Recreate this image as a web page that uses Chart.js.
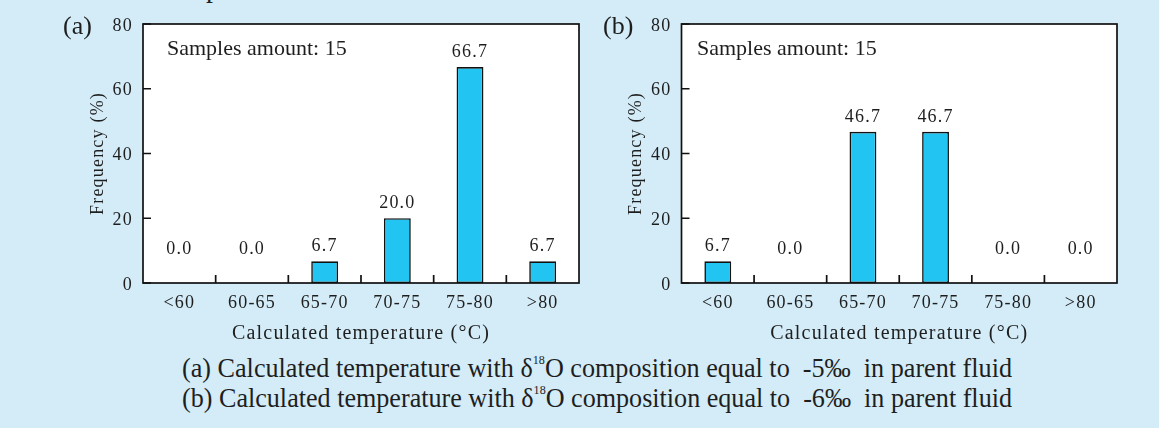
<!DOCTYPE html>
<html>
<head>
<meta charset="utf-8">
<script src="https://cdn.jsdelivr.net/npm/chart.js@4.4.1/dist/chart.umd.min.js"></script>
<style>
body{margin:0;width:1159px;height:428px;background:#d3ecf8;overflow:hidden;position:relative;font-family:"Liberation Serif","Times New Roman",serif;color:#1e1e1e}
canvas{position:absolute;top:0}
#chartA{left:0}
#chartB{left:585px}
.panel{position:absolute;top:13px;font-size:26px;line-height:26px}
.note{position:absolute;top:36.6px;font-size:22px;line-height:22px}
.cap{position:absolute;left:182px;font-size:28px;line-height:27px;white-space:nowrap;transform-origin:0 0}
.cap sup{font-size:13px;line-height:0;vertical-align:13px}
.frag{position:absolute;left:206px;top:-26px;font-size:28px;line-height:28px}
</style>
</head>
<body>
<div class="frag">p</div>
<canvas id="chartA" width="600" height="350"></canvas>
<canvas id="chartB" width="574" height="350"></canvas>
<div class="panel" style="left:63px">(a)</div>
<div class="panel" style="left:603px">(b)</div>
<div class="note" id="noteA" style="left:167px"></div>
<div class="note" id="noteB" style="left:697px"></div>
<div class="cap" style="top:353.5px">(a) Calculated temperature with &delta;<sup>18</sup>O composition equal to&nbsp; -5&permil;&nbsp; in parent fluid</div>
<div class="cap" style="top:383.5px">(b) Calculated temperature with &delta;<sup>18</sup>O composition equal to&nbsp; -6&permil;&nbsp; in parent fluid</div>
<script>
// data
const categories = ["<60", "60-65", "65-70", "70-75", "75-80", ">80"];
const freqA = [0.0, 0.0, 6.7, 20.0, 66.7, 6.7];
const freqB = [6.7, 0.0, 46.7, 46.7, 0.0, 0.0];
const yTicks = [0, 20, 40, 60, 80];
const samplesA = 15;
const samplesB = 15;

const FONT = "'Liberation Serif', 'Times New Roman', serif";
const INK = "#1e1e1e";
Chart.defaults.font.family = FONT;
Chart.defaults.color = INK;

document.getElementById("noteA").textContent = "Samples amount: " + samplesA;
document.getElementById("noteB").textContent = "Samples amount: " + samplesB;

// fit the captions to the width they take in the figure
document.querySelectorAll(".cap").forEach(el=>{
    const w = el.getBoundingClientRect().width;
    el.style.transform = "scaleX(" + (830 / w) + ")";
});

const framePlugin = {
    id: "frame",
    beforeLayout(chart){ chart.ctx.letterSpacing = "1.2px"; },
    beforeDraw(chart){
        const {ctx, chartArea: a} = chart;
        ctx.letterSpacing = "1.2px";
        ctx.save();
        ctx.fillStyle = "#fff";
        ctx.fillRect(a.left, a.top, a.right - a.left, a.bottom - a.top);
        ctx.restore();
    },
    afterDraw(chart){
        const {ctx, chartArea: a} = chart;
        const xs = chart.scales.x, ys = chart.scales.y;
        ctx.save();
        ctx.strokeStyle = "#111";
        ctx.lineWidth = 1.7;
        ctx.strokeRect(a.left, a.top, a.right - a.left, a.bottom - a.top);
        ctx.beginPath();
        // inward ticks on y
        yTicks.forEach(v=>{
            const y = ys.getPixelForValue(v);
            ctx.moveTo(a.left, y);
            ctx.lineTo(a.left + 8, y);
        });
        // inward ticks on x, at the category boundaries
        for(let i=1;i<categories.length;i++){
            const x = (xs.getPixelForValue(i-1) + xs.getPixelForValue(i)) / 2;
            ctx.moveTo(x, a.bottom);
            ctx.lineTo(x, a.bottom - 8);
        }
        ctx.stroke();

        // value labels above the bars
        const data = chart.data.datasets[0].data;
        ctx.font = "18px " + FONT;
        ctx.fillStyle = INK;
        ctx.textAlign = "center";
        ctx.textBaseline = "alphabetic";
        data.forEach((v,i)=>{
            const x = xs.getPixelForValue(i);
            const y = Math.min(ys.getPixelForValue(v) - 10, ys.getPixelForValue(0) - 29.5);
            ctx.fillText(v.toFixed(1), x, y);
        });
        ctx.restore();
    }
};

function makeChart(id, values, padLeft, padRight){
    return new Chart(document.getElementById(id), {
        type: "bar",
        data: {
            labels: categories,
            datasets: [{
                data: values,
                backgroundColor: "#22c4f2",
                borderColor: "#111",
                borderWidth: 1.6,
                borderSkipped: false,
                barPercentage: 0.37,
                categoryPercentage: 1
            }]
        },
        options: {
            responsive: false,
            animation: false,
            layout: { padding: { left: padLeft, right: padRight, top: 24, bottom: 0 } },
            plugins: { legend: { display: false }, tooltip: { enabled: false } },
            scales: {
                x: {
                    grid: { display: false, drawTicks: false },
                    border: { display: false },
                    ticks: { color: INK, font: { size: 18 }, padding: 9, maxRotation: 0, autoSkip: false },
                    title: { display: true, text: "Calculated temperature (°C)", color: INK, font: { size: 20 }, padding: { top: 0, bottom: 4 } },
                    afterFit(s){ s.height = 67; }
                },
                y: {
                    min: 0, max: 80,
                    afterBuildTicks(s){ s.ticks = yTicks.map(v=>({ value: v })); },
                    grid: { display: false, drawTicks: false },
                    border: { display: false },
                    ticks: { color: INK, font: { size: 18 }, padding: 10, labelOffset: 2 },
                    title: { display: true, text: "Frequency (%)", color: INK, font: { size: 18 }, padding: { top: 34.2, bottom: 0 } },
                    afterFit(s){ s.width = 90; }
                }
            }
        },
        plugins: [framePlugin]
    });
}

makeChart("chartA", freqA, 53, 21);
makeChart("chartB", freqB, 6.5, 42);
</script>
</body>
</html>
